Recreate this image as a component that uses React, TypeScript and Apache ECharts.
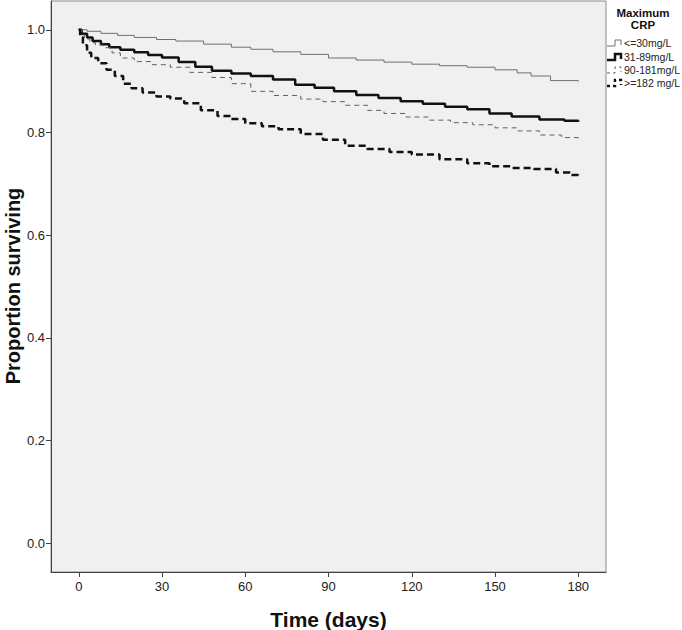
import React, { useEffect, useRef } from "react";
import * as echarts from "echarts";

const xTicks = [0, 30, 60, 90, 120, 150, 180];
const yTicks = [0, 0.2, 0.4, 0.6, 0.8, 1.0];

const groupNames = ["<=30mg/L", "31-89mg/L", "90-181mg/L", ">=182 mg/L"];

const daysA = [0, 3, 8, 14, 20, 28, 35, 45, 55, 62, 70, 80, 90, 100, 110, 120, 130, 140, 150, 158, 163, 170, 180];
const survA = [1.0, 0.997, 0.993, 0.989, 0.985, 0.981, 0.978, 0.972, 0.966, 0.962, 0.957, 0.952, 0.945, 0.941, 0.937, 0.933, 0.930, 0.927, 0.922, 0.916, 0.910, 0.901, 0.899];

const daysB = [0, 1, 3, 5, 8, 11, 15, 20, 25, 30, 36, 42, 48, 55, 62, 70, 78, 85, 92, 100, 108, 116, 124, 132, 140, 148, 156, 166, 175, 180];
const survB = [1.0, 0.992, 0.985, 0.978, 0.972, 0.966, 0.961, 0.956, 0.951, 0.946, 0.937, 0.928, 0.920, 0.915, 0.910, 0.903, 0.893, 0.887, 0.880, 0.873, 0.867, 0.861, 0.856, 0.850, 0.845, 0.837, 0.831, 0.825, 0.823, 0.821];

const daysC = [0, 1, 2, 4, 6, 9, 12, 15, 20, 26, 33, 40, 48, 55, 62, 70, 80, 88, 96, 104, 110, 118, 126, 134, 142, 150, 158, 166, 174, 180];
const survC = [1.0, 0.99, 0.982, 0.975, 0.970, 0.965, 0.955, 0.945, 0.938, 0.932, 0.927, 0.917, 0.907, 0.895, 0.880, 0.872, 0.865, 0.860, 0.853, 0.843, 0.837, 0.830, 0.824, 0.819, 0.815, 0.809, 0.803, 0.795, 0.790, 0.786];

const daysD = [0, 0.5, 1.5, 3, 4.5, 7, 10, 13, 16, 19, 23, 28, 33, 38, 44, 50, 55, 60, 66, 72, 80, 88, 96, 104, 112, 120, 130, 140, 148, 156, 164, 172, 177, 180];
const survD = [1.0, 0.985, 0.97, 0.955, 0.945, 0.935, 0.922, 0.910, 0.895, 0.886, 0.878, 0.870, 0.866, 0.857, 0.843, 0.832, 0.826, 0.818, 0.812, 0.806, 0.797, 0.786, 0.774, 0.768, 0.762, 0.757, 0.748, 0.740, 0.734, 0.731, 0.729, 0.722, 0.717, 0.713];

const groupDays = [daysA, daysB, daysC, daysD];
const groupSurv = [survA, survB, survC, survD];

const lineStyles = [
  { color: "#707070", width: 1, type: "solid" as any },
  { color: "#111111", width: 2.5, type: "solid" as any },
  { color: "#606060", width: 1, type: [5, 4] as any },
  { color: "#111111", width: 2.5, type: [7, 4] as any },
];

const FONT = "'Liberation Sans', Arial, sans-serif";

export default function App() {
  const ref = useRef<HTMLDivElement>(null);
  useEffect(() => {
    if (!ref.current) return;
    const chart = echarts.init(ref.current, undefined, { renderer: "svg" });
    const series = groupNames.map((name, i) => ({
      type: "line",
      name,
      step: "end",
      showSymbol: false,
      symbol: "none",
      data: groupDays[i].map((d, j) => [d, groupSurv[i][j]]),
      lineStyle: lineStyles[i],
      z: 3,
    }));
    const legendGraphics: any[] = [];
    const rowsY = [43, 57, 70, 83];
    groupNames.forEach((name, i) => {
      const yc = rowsY[i];
      legendGraphics.push({
        type: "polyline",
        shape: {
          points: [
            [607, yc + 3],
            [615, yc + 3],
            [615, yc - 3],
            [621, yc - 3],
            [621, yc + 2],
          ],
        },
        style: {
          fill: null,
          stroke: lineStyles[i].color,
          lineWidth: lineStyles[i].width,
          lineDash: Array.isArray(lineStyles[i].type) ? [3, 3] : null,
        },
      });
      legendGraphics.push({
        type: "text",
        x: 624,
        y: yc,
        style: {
          text: name,
          font: `10.5px ${FONT}`,
          fill: "#222",
          verticalAlign: "middle",
          align: "left",
        },
      });
    });
    chart.setOption({
      animation: false,
      backgroundColor: "#ffffff",
      textStyle: { fontFamily: FONT },
      grid: {
        left: 51,
        right: 76,
        top: 1,
        bottom: 58,
        show: true,
        containLabel: false,
        outerBoundsMode: "none",
        backgroundColor: "#f0f0f0",
        borderColor: "#8a8a8a",
        borderWidth: 1,
      },
      xAxis: {
        type: "value",
        min: -10,
        max: 190,
        name: "Time (days)",
        nameLocation: "middle",
        nameGap: 37,
        nameTextStyle: { fontSize: 21, fontWeight: "bold", color: "#111", fontFamily: FONT },
        axisLine: { show: true, onZero: false, lineStyle: { color: "#444", width: 1 } },
        axisTick: { show: true, inside: false, length: 5, customValues: xTicks, lineStyle: { color: "#444" } },
        axisLabel: { customValues: xTicks, fontSize: 13, color: "#222", margin: 8 },
        splitLine: { show: false },
      },
      yAxis: {
        type: "value",
        min: -0.056,
        max: 1.056,
        axisLine: { show: true, onZero: false, lineStyle: { color: "#444", width: 1 } },
        axisTick: { show: true, inside: false, length: 5, customValues: yTicks, lineStyle: { color: "#444" } },
        axisLabel: {
          customValues: yTicks,
          fontSize: 13,
          color: "#222",
          margin: 6,
          formatter: (v: number) => v.toFixed(1),
        },
        splitLine: { show: false },
      },
      series,
      graphic: [
        {
          type: "text",
          x: 13,
          y: 286,
          rotation: Math.PI / 2,
          style: {
            text: "Proportion surviving",
            font: `bold 20px ${FONT}`,
            fill: "#111",
            align: "center",
            verticalAlign: "middle",
          },
        },
        {
          type: "text",
          x: 643,
          y: 13,
          style: { text: "Maximum", font: `bold 11.5px ${FONT}`, fill: "#111", align: "center", verticalAlign: "middle" },
        },
        {
          type: "text",
          x: 643,
          y: 25,
          style: { text: "CRP", font: `bold 11.5px ${FONT}`, fill: "#111", align: "center", verticalAlign: "middle" },
        },
        ...legendGraphics,
      ],
    });
    return () => chart.dispose();
  }, []);
  return (
    <div
      ref={ref}
      style={{ position: "fixed", left: 0, top: 0, width: 682, height: 630 }}
    />
  );
}
